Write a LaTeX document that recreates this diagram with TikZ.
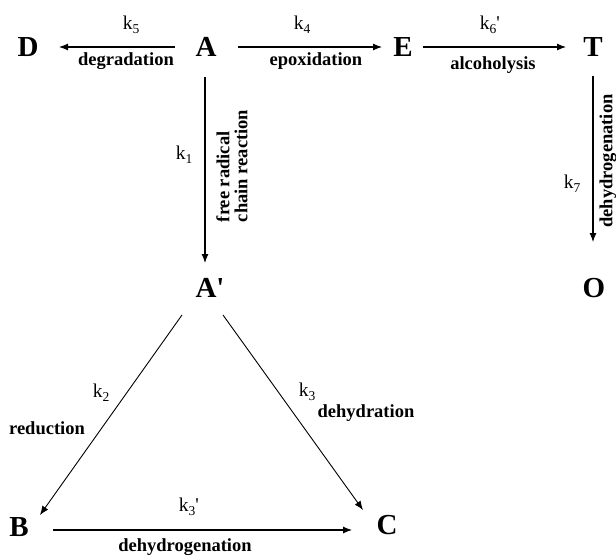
\documentclass[tikz,border=0pt]{standalone}
\usepackage{fontspec}
\setmainfont{Liberation Serif}
\usetikzlibrary{arrows.meta,calc}
\newcommand\kk[1]{k\raisebox{-0.22em}{\fontsize{13.5}{13.5}\selectfont #1}}
\newcommand\pr{\textquotesingle}
\begin{document}
\begin{tikzpicture}[x=1pt,y=-1pt,
 sp/.style={font=\fontsize{29}{29}\selectfont\bfseries, inner sep=0pt},
 lab/.style={font=\fontsize{18.5}{16}\selectfont\bfseries, inner sep=0pt},
 kl/.style={font=\fontsize{19.5}{19.5}\selectfont, inner sep=0pt},
 arr/.style={line width=1.1pt, -{Latex[length=9pt,width=7pt]}},
 darr/.style={line width=0.9pt, -{Latex[length=9pt,width=7pt]}},
]
\useasboundingbox (0,0) rectangle (616,557);
% species
\node[sp] (D) at (28,47) {D};
\node[sp] (A) at (206,47) {A};
\node[sp] (E) at (403,47) {E};
\node[sp] (T) at (593,47) {T};
\node[sp] (O) at (594,288) {O};
\node[sp] (Ap) at (210,288) {A\pr};
\node[sp] (B) at (19,527) {B};
\node[sp] (C) at (387,525) {C};
% labels
\node[kl] (k5) at (131,25) {\kk{5}};
\node[lab] (l5) at (126,61) {degradation};
\node[kl] (k4) at (302,25) {\kk{4}};
\node[lab] (l4) at (316,61) {epoxidation};
\node[kl] (k6) at (490,25) {\kk{6}\pr};
\node[lab] (l6) at (493,65) {alcoholysis};
\node[kl] (k7) at (572,184) {\kk{7}};
\node[lab, rotate=90] (l7) at (608,161) {dehydrogenation};
\node[kl] (k1) at (184,155) {\kk{1}};
\node[lab, rotate=90, align=left] (l1) at (232,166) {free radical\\[2pt]chain reaction};
\node[kl] (k2) at (101,393) {\kk{2}};
\node[lab] (l2) at (47,428) {reduction};
\node[kl] (k3) at (307,392) {\kk{3}};
\node[lab] (l3) at (366,413) {dehydration};
\node[kl] (k3p) at (189,507) {\kk{3}\pr};
\node[lab] (l3p) at (185,547) {dehydrogenation};
% arrows
\draw[arr, shorten <=31pt, shorten >=31pt] (A.center) -- (D.center);
\draw[arr, shorten <=32pt, shorten >=21pt] (A.center) -- (E.center);
\draw[arr, shorten <=20pt, shorten >=27pt] (E.center) -- (T.center);
\draw[arr, shorten <=29pt, shorten >=46pt] (T.center) -- (T.center |- O.center);
\draw[arr, shorten <=30pt, shorten >=25pt] ([xshift=-1pt]A.center) -- ([xshift=-1pt]A.center |- Ap.center);
\draw[darr] ($(Ap.center)+(-28,27)$) -- ($(B.center)+(21,-12)$);
\draw[darr] ($(Ap.center)+(13,27)$) -- ($(C.center)+(-24,-15)$);
\draw[arr] ($(B.center)+(34,3)$) -- ($(C.center)+(-35,5)$);
\end{tikzpicture}
\end{document}
